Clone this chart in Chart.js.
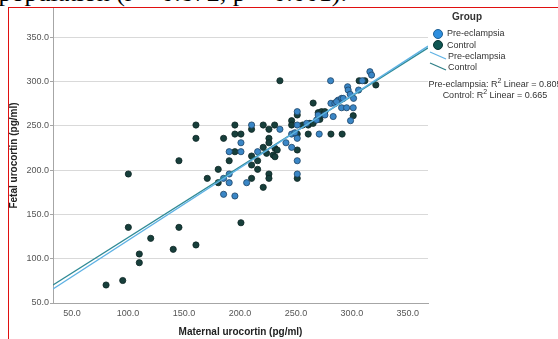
<!DOCTYPE html>
<html>
<head>
<meta charset="utf-8">
<script src="https://cdn.jsdelivr.net/npm/chart.js@4/dist/chart.umd.min.js"></script>
<style>
  html, body { margin:0; padding:0; background:#fff; }
  body { width:558px; height:339px; overflow:hidden; position:relative; font-family:"Liberation Sans", Arial, sans-serif; }
  #wrap { position:absolute; left:0; top:0; width:558px; height:339px; }
  .abs { position:absolute; white-space:nowrap; }
  #caption { position:absolute; right:211px; top:-21px; font-family:"Liberation Serif","Times New Roman",serif; font-size:26px; line-height:28px; color:#000; white-space:nowrap; }
  #frame { position:absolute; left:8px; top:7px; width:560px; height:340px; border-top:1px solid #e01010; border-left:1px solid #e01010; pointer-events:none; }
  .lg { font-size:9px; line-height:11px; color:#333; }
  .dot { position:absolute; width:8px; height:8px; border-radius:50%; }
</style>
</head>
<body>
<div id="caption">population (r = 0.872, p &lt; 0.001).</div>
<div id="wrap"><canvas id="c" width="558" height="339"></canvas></div>

<div class="abs" style="left:447px; top:11px; width:40px; text-align:center; font-size:10px; line-height:12px; font-weight:bold; color:#333;">Group</div>
<div class="dot" style="left:433px; top:29px; background:#2d8ede; border:0.5px solid #1d5f94;"></div>
<div class="abs lg" style="left:447px; top:28px;">Pre-eclampsia</div>
<div class="dot" style="left:433px; top:40px; background:#0f5552; border:0.5px solid #083330;"></div>
<div class="abs lg" style="left:447px; top:39.5px;">Control</div>
<svg class="abs" style="left:428px; top:48px;" width="20" height="26">
  <line x1="2" y1="4" x2="18" y2="11" stroke="#5fb2e4" stroke-width="1.3"/>
  <line x1="2" y1="15" x2="18" y2="22" stroke="#2f7f87" stroke-width="1.3"/>
</svg>
<div class="abs lg" style="left:448px; top:51px;">Pre-eclampsia</div>
<div class="abs lg" style="left:448px; top:62px;">Control</div>
<div class="abs lg" style="left:395px; top:78.5px; width:200px; text-align:center;">Pre-eclampsia: R<sup style="font-size:7px; line-height:0;">2</sup> Linear = 0.805</div>
<div class="abs lg" style="left:395px; top:90px; width:200px; text-align:center;">Control: R<sup style="font-size:7px; line-height:0;">2</sup> Linear = 0.665</div>
<div id="frame"></div>

<script>
// ---- data ----
const xTicks = [50, 100, 150, 200, 250, 300, 350];
const yTicks = [50, 100, 150, 200, 250, 300, 350];

const preX = [185.4,195.5,190.4,185.4,190.4,190.4,200.9,200.9,206.0,210.4,215.8,235.7,241.1,246.2,246.2,249.1,251.2,251.2,251.2,251.2,251.2,270.8,268.5,269.9,259.6,281.0,281.3,284.8,287.8,290.8,286.3,292.3,290.8,295.3,301.2,283.3,298.8,296.2,296.7,306.0,298.5,301.5,309.3,316.1,317.6,275.9];
const preY = [172.7,170.8,185.8,190.7,195.6,220.8,220.8,230.9,185.8,250.9,220.8,246.1,230.9,225.7,240.7,242.2,266.0,250.9,235.9,210.6,195.6,240.7,256.6,262.2,252.8,300.9,275.4,275.4,279.0,281.0,277.2,281.0,270.4,270.4,270.4,260.5,255.8,294.1,290.4,290.4,285.6,281.0,300.9,311.1,307.3,262.2];

const ctrlX = [80.4,95.3,100.3,100.3,110.1,110.1,120.3,140.4,145.5,145.5,160.7,160.7,160.7,170.8,180.6,180.6,185.4,190.4,195.5,195.5,200.9,195.5,200.9,210.4,210.4,210.4,210.4,215.8,215.8,220.8,220.8,220.8,225.9,225.9,225.9,225.9,225.9,231.0,231.3,233.3,229.7,231.3,223.8,235.7,246.2,246.2,251.2,251.2,251.2,251.2,256.0,261.0,261.0,262.5,265.4,265.4,269.9,272.9,275.9,271.4,272.9,281.3,291.3,301.2,306.5,311.6,321.4];
const ctrlY = [70.3,75.4,195.6,135.4,105.3,95.5,123.0,110.6,135.4,210.6,250.9,235.9,115.5,190.7,200.9,185.8,235.9,210.6,250.9,240.7,240.7,220.8,140.6,246.1,215.9,205.8,190.7,210.6,200.9,250.9,225.7,180.6,246.1,235.9,230.9,195.6,190.7,250.9,224.6,222.7,217.0,215.1,219.0,300.9,255.8,250.9,262.2,240.7,222.7,190.7,250.9,250.9,240.7,252.8,252.8,275.7,264.8,266.0,266.0,257.3,262.2,240.7,240.7,261.4,300.9,300.9,296.1];

// fit-line end points read at the plot edges
const preLineX = [33, 368];
const preLineY = [65.8, 340.0];
const ctrlLineX = [33, 368];
const ctrlLineY = [70.3, 338.0];

const pts = (xs, ys) => xs.map((x, i) => ({x, y: ys[i]}));

const font = {family: '"Liberation Sans", Arial, sans-serif', size: 9};

new Chart(document.getElementById('c'), {
  type: 'scatter',
  data: {
    datasets: [
      {label: 'Pre-eclampsia fit', type: 'line', data: pts(preLineX, preLineY), borderColor: '#5fb2e4', borderWidth: 1.4, pointRadius: 0, fill: false, order: 0},
      {label: 'Control fit', type: 'line', data: pts(ctrlLineX, ctrlLineY), borderColor: '#2f8a95', borderWidth: 1.4, pointRadius: 0, fill: false, order: 0},
      {label: 'Control', data: pts(ctrlX, ctrlY), backgroundColor: '#173f3b', borderColor: '#0c2624', borderWidth: 0.8, pointRadius: 3.1, order: 2},
      {label: 'Pre-eclampsia', data: pts(preX, preY), backgroundColor: '#3a86c6', borderColor: '#1d4466', borderWidth: 0.8, pointRadius: 3.1, order: 1}
    ]
  },
  options: {
    responsive: false,
    devicePixelRatio: 1,
    animation: false,
    layout: {padding: {left: 0, right: 130, top: 8, bottom: 0}},
    plugins: {legend: {display: false}, tooltip: {enabled: false}},
    scales: {
      x: {
        type: 'linear', min: 33, max: 368,
        afterBuildTicks: s => { s.ticks = xTicks.map(v => ({value: v})); },
        afterFit: s => { s.height = 36; },
        grid: {display: false, drawTicks: false},
        border: {display: true, color: '#a6a6a6', width: 1},
        ticks: {font, color: '#555', padding: 5, maxRotation: 0, callback: v => v.toFixed(1)},
        title: {display: true, text: 'Maternal urocortin (pg/ml)', color: '#222', font: {family: font.family, size: 10, weight: 'bold'}, padding: {top: 0, bottom: 1}}
      },
      y: {
        type: 'linear', min: 50, max: 383,
        afterBuildTicks: s => { s.ticks = yTicks.map(v => ({value: v})); },
        afterFit: s => { s.width = 53; },
        grid: {color: '#d9d9d9', lineWidth: 1, drawTicks: true, tickLength: 3, tickColor: '#a6a6a6'},
        border: {display: true, color: '#a6a6a6', width: 1},
        ticks: {font, color: '#555', padding: 1, callback: v => v.toFixed(1)},
        title: {display: true, text: 'Fetal urocortin (pg/ml)', color: '#222', font: {family: font.family, size: 10, weight: 'bold'}, padding: {top: 8, bottom: 0}}
      }
    }
  }
});
</script>
</body>
</html>
